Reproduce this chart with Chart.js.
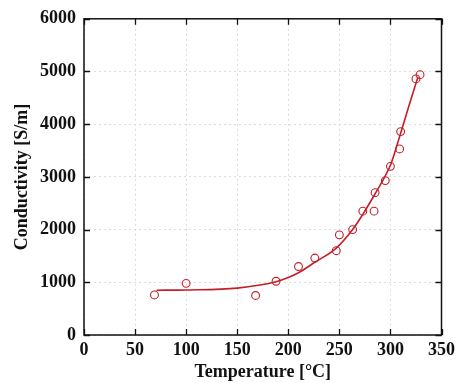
<!DOCTYPE html>
<html>
<head>
<meta charset="utf-8">
<script src="https://cdn.jsdelivr.net/npm/chart.js@4/dist/chart.umd.min.js"></script>
<style>
  html, body { margin: 0; padding: 0; background: #fff; }
  #wrap { width: 460px; height: 383px; }
</style>
</head>
<body>
<div id="wrap"><canvas id="condChart" width="460" height="383"></canvas></div>
<script>
// measured points (temperature, conductivity)
const measTemp = [69, 100, 168, 188, 210, 226, 247, 250, 263, 273, 284, 285, 295, 300, 309, 310, 325, 329];
const measCond = [760, 980, 750, 1020, 1300, 1460, 1600, 1900, 2000, 2350, 2350, 2700, 2930, 3200, 3530, 3860, 4860, 4940];

// fitted curve
const fitTemp = [71, 100, 150, 188, 200, 210, 226, 247, 263, 273, 285, 295, 300, 310, 318, 327];
const fitCond = [850, 855, 890, 1010, 1090, 1180, 1380, 1650, 2000, 2290, 2680, 3020, 3220, 3830, 4340, 4900];

const xTicks = [0, 50, 100, 150, 200, 250, 300, 350];
const yTicks = [0, 1000, 2000, 3000, 4000, 5000, 6000];

const RED = '#c41e2a';
const FONT = '"Liberation Serif", "Times New Roman", serif';

const measData = measTemp.map((t, i) => ({ x: t, y: measCond[i] }));
const fitData = fitTemp.map((t, i) => ({ x: t, y: fitCond[i] }));

// frame with inward tick marks, like the original plot
const framePlugin = {
    id: 'frame',
    afterDraw(chart) {
        const { ctx, chartArea: a, scales } = chart;
        ctx.save();
        ctx.strokeStyle = '#111';
        ctx.lineWidth = 1.5;
        ctx.strokeRect(a.left, a.top, a.right - a.left, a.bottom - a.top);
        ctx.lineWidth = 1.3;
        const len = 6;
        ctx.beginPath();
        xTicks.forEach(v => {
            const px = Math.round(scales.x.getPixelForValue(v)) + 0.5;
            ctx.moveTo(px, a.bottom); ctx.lineTo(px, a.bottom - len);
            ctx.moveTo(px, a.top); ctx.lineTo(px, a.top + len);
        });
        yTicks.forEach(v => {
            const py = Math.round(scales.y.getPixelForValue(v)) + 0.5;
            ctx.moveTo(a.left, py); ctx.lineTo(a.left + len, py);
            ctx.moveTo(a.right, py); ctx.lineTo(a.right - len, py);
        });
        ctx.stroke();
        ctx.restore();
    }
};

const ctx = document.getElementById('condChart').getContext('2d');
new Chart(ctx, {
    type: 'scatter',
    data: {
        datasets: [
            {
                label: 'fit',
                data: fitData,
                showLine: true,
                borderColor: RED,
                borderWidth: 1.6,
                pointRadius: 0,
                cubicInterpolationMode: 'monotone',
                fill: false
            },
            {
                label: 'measured',
                data: measData,
                showLine: false,
                pointRadius: 3.9,
                pointBorderWidth: 1.1,
                pointBorderColor: RED,
                pointBackgroundColor: 'rgba(0,0,0,0)'
            }
        ]
    },
    options: {
        responsive: false,
        animation: false,
        layout: { padding: { top: 15, right: 16, left: 0, bottom: 0 } },
        plugins: { legend: { display: false }, tooltip: { enabled: false } },
        scales: {
            x: {
                type: 'linear',
                min: 0, max: 350,
                afterBuildTicks: s => { s.ticks = xTicks.map(v => ({ value: v })); },
                afterFit: s => { s.height = 48; },
                grid: { color: '#dcdcdc', lineWidth: 1, drawTicks: false },
                border: { display: false, dash: [2, 3] },
                ticks: { color: '#111', padding: 5, font: { family: FONT, size: 18, weight: 'bold' } },
                title: {
                    display: true,
                    text: 'Temperature [°C]',
                    color: '#111',
                    padding: { top: 0, bottom: 0 },
                    font: { family: FONT, size: 18, weight: 'bold' }
                }
            },
            y: {
                type: 'linear',
                min: 0, max: 6000,
                afterBuildTicks: s => { s.ticks = yTicks.map(v => ({ value: v })); },
                afterFit: s => { s.width = 84; },
                grid: { color: '#dcdcdc', lineWidth: 1, drawTicks: false },
                border: { display: false, dash: [2, 3] },
                ticks: {
                    color: '#111', padding: 8,
                    font: { family: FONT, size: 18, weight: 'bold' },
                    callback: v => String(v)
                },
                title: {
                    display: true,
                    text: 'Conductivity [S/m]',
                    color: '#111',
                    padding: { top: 12, bottom: 0 },
                    font: { family: FONT, size: 18, weight: 'bold' }
                }
            }
        }
    },
    plugins: [framePlugin]
});
</script>
</body>
</html>
